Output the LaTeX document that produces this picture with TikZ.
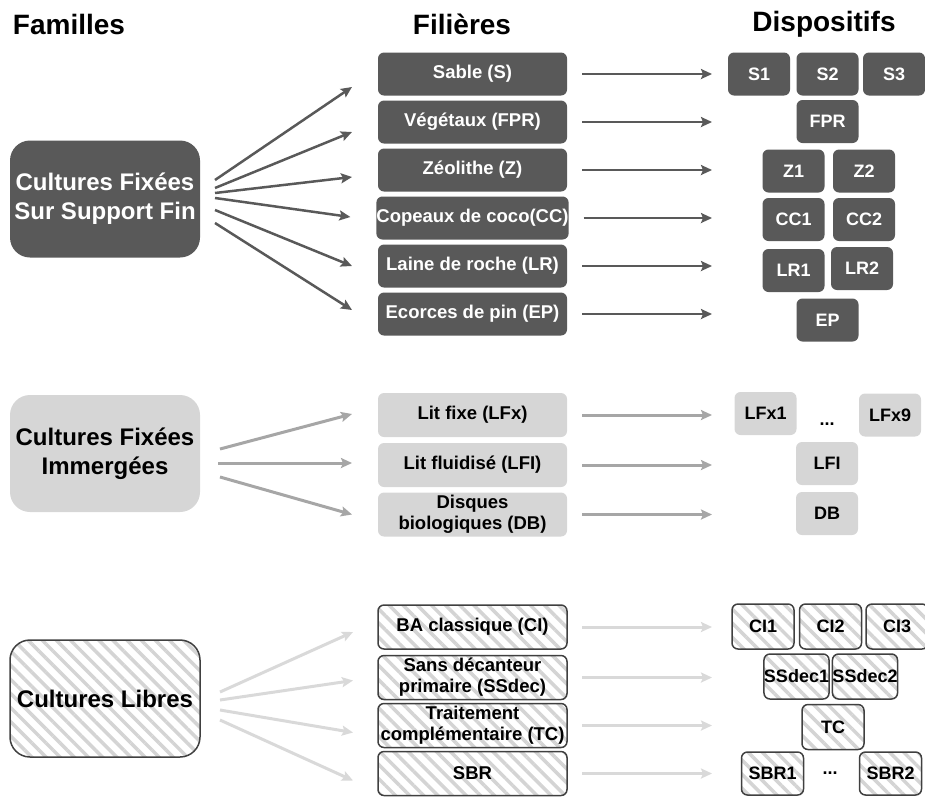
\documentclass[tikz,border=0pt]{standalone}
\usepackage{fontspec}
\setmainfont{Liberation Sans}
\usetikzlibrary{arrows.meta,patterns.meta}
\definecolor{dk}{HTML}{595959}
\definecolor{md}{HTML}{A6A6A6}
\definecolor{lt}{HTML}{D9D9D9}
\definecolor{dotgray}{HTML}{D6D6D6}
\begin{document}
\begin{tikzpicture}[x=1pt,y=-1pt,
 every node/.style={inner sep=0pt,outer sep=0pt,align=center},
 dkbox/.style={fill=dk,text=white,rounded corners=6pt},
 dtbox/.style={fill=dotgray,text=black,rounded corners=6pt},
 htbox/.style={draw=black!75,line width=1.5pt,pattern={Lines[angle=-45,distance=10pt,line width=3.5pt]},pattern color=black!17,rounded corners=6pt,text=black},
 fam/.style={minimum width=190pt,minimum height=117pt,rounded corners=20pt,font=\fontsize{24}{29}\selectfont\bfseries},
 fil/.style={minimum width=189pt,minimum height=43pt,font=\fontsize{18.5}{21}\selectfont\bfseries},
 dev/.style={minimum width=62pt,minimum height=43pt,font=\fontsize{18}{21}\selectfont\bfseries},
 head/.style={font=\fontsize{28}{30}\selectfont\bfseries},
 arrA/.style={draw=dk,line width=2.5pt,-{Stealth[length=11pt,width=10pt,inset=2pt]}},
 arrB/.style={draw=md,line width=3pt,-{Stealth[length=11pt,width=10pt,inset=2pt]}},
 arrC/.style={draw=lt,line width=3pt,-{Stealth[length=11pt,width=10pt,inset=2pt]}},
]
\useasboundingbox (0,0) rectangle (925,796);

% headings
\node[head] (h1) at (69,24) {Familles};
\node[head] (h2) at (462,24) {Filières};
\node[head] (h3) at (824,24) {Dispositifs};

% families
\node[fam,dkbox,rounded corners=20pt] (fam1) at (105,199) {Cultures Fixées\\Sur Support Fin};
\node[fam,dtbox,rounded corners=20pt] (fam2) at (105,453.5) {Cultures Fixées\\Immergées};
\node[fam,htbox,rounded corners=20pt] (fam3) at (105,698.5) {Cultures Libres};

% filieres group 1
\node[fil,dkbox] (fS) at (472.5,74) {Sable (S)};
\node[fil,dkbox] (fV) at (472.5,122) {Végétaux (FPR)};
\node[fil,dkbox] (fZ) at (472.5,170) {Zéolithe (Z)};
\node[fil,dkbox] (fC) at (472.5,218) {Copeaux de coco(CC)};
\node[fil,dkbox] (fL) at (472.5,266) {Laine de roche (LR)};
\node[fil,dkbox] (fE) at (472.5,314) {Ecorces de pin (EP)};
% filieres group 2
\node[fil,dtbox,minimum height=44pt] (fLF) at (472.5,415) {Lit fixe (LFx)};
\node[fil,dtbox,minimum height=44pt] (fLI) at (472.5,465) {Lit fluidisé (LFI)};
\node[fil,dtbox,minimum height=44pt] (fDB) at (472.5,514.5) {Disques\\biologiques (DB)};
% filieres group 3
\node[fil,htbox,minimum height=44pt] (fCI) at (472.5,627) {BA classique (CI)};
\node[fil,htbox,minimum height=44pt] (fSS) at (472.5,677.5) {Sans décanteur\\primaire (SSdec)};
\node[fil,htbox,minimum height=44pt] (fTC) at (472.5,725.5) {Traitement\\complémentaire (TC)};
\node[fil,htbox,minimum height=44pt] (fSB) at (472.5,773.5) {SBR};

% dispositifs group 1
\node[dev,dkbox] (S1) at (759,74) {S1};
\node[dev,dkbox] (S2) at (827.5,74) {S2};
\node[dev,dkbox] (S3) at (894,74) {S3};
\node[dev,dkbox] (FPR) at (827.5,121.5) {FPR};
\node[dev,dkbox] (Z1) at (793.5,171) {Z1};
\node[dev,dkbox] (Z2) at (864,171) {Z2};
\node[dev,dkbox] (CC1) at (793.5,219.5) {CC1};
\node[dev,dkbox] (CC2) at (864,219.5) {CC2};
\node[dev,dkbox] (LR1) at (793.5,270.5) {LR1};
\node[dev,dkbox] (LR2) at (862,268.5) {LR2};
\node[dev,dkbox] (EP) at (827.5,320) {EP};
% dispositifs group 2
\node[dev,dtbox] (LFx1) at (765.5,413.5) {LFx1};
\node[dev,dtbox] (LFx9) at (890,415) {LFx9};
\node[font=\fontsize{18}{21}\selectfont\bfseries] (d1) at (827,424) {...};
\node[dev,dtbox] (LFI) at (827,463.5) {LFI};
\node[dev,dtbox] (DB) at (827,513.5) {DB};
% dispositifs group 3
\node[dev,htbox,minimum height=45pt] (CI1) at (763,626.5) {CI1};
\node[dev,htbox,minimum height=45pt] (CI2) at (830.5,626.5) {CI2};
\node[dev,htbox,minimum height=45pt] (CI3) at (897,626.5) {CI3};
\node[dev,htbox,minimum height=45pt] (SS1) at (796.5,676.5) {SSdec1};
\node[dev,htbox,minimum height=45pt] (SS2) at (865,676.5) {SSdec2};
\node[dev,htbox,minimum height=45pt] (TC) at (833,727) {TC};
\node[dev,htbox,minimum height=43pt] (SB1) at (772.5,773.5) {SBR1};
\node[font=\fontsize{18}{21}\selectfont\bfseries] (d2) at (830,773) {...};
\node[dev,htbox,minimum height=43pt] (SB2) at (890.5,773.5) {SBR2};

% arrow end coordinates
\coordinate (eS) at (712,74);
\coordinate (eV) at (712,122);
\coordinate (eZ) at (712,170);
\coordinate (eC) at (712,218);
\coordinate (eL) at (712,266);
\coordinate (eE) at (712,314);
\coordinate (eLF) at (712,415);
\coordinate (eLI) at (712,465);
\coordinate (eDB) at (712,514.5);
\coordinate (eCI) at (712,627);
\coordinate (eSS) at (712,677.5);
\coordinate (eTC) at (712,725.5);
\coordinate (eSB) at (712,773.5);

% fan arrows group 1
\draw[arrA] ([xshift=15pt,yshift=19pt]fam1.east) -- ([xshift=-26pt,yshift=-13pt]fS.west);
\draw[arrA] ([xshift=15pt,yshift=11pt]fam1.east) -- ([xshift=-26pt,yshift=-10pt]fV.west);
\draw[arrA] ([xshift=15pt,yshift=6pt]fam1.east) -- ([xshift=-26pt,yshift=-7pt]fZ.west);
\draw[arrA] ([xshift=15pt,yshift=1pt]fam1.east) -- ([xshift=-26pt,yshift=1pt]fC.west);
\draw[arrA] ([xshift=15pt,yshift=-11pt]fam1.east) -- ([xshift=-26pt,yshift=0pt]fL.west);
\draw[arrA] ([xshift=15pt,yshift=-24pt]fam1.east) -- ([xshift=-26pt,yshift=4pt]fE.west);
% fan arrows group 2
\draw[arrB] ([xshift=20pt,yshift=4.5pt]fam2.east) -- ([xshift=-26pt,yshift=1pt]fLF.west);
\draw[arrB] ([xshift=18pt,yshift=-9.5pt]fam2.east) -- ([xshift=-26pt,yshift=2pt]fLI.west);
\draw[arrB] ([xshift=20pt,yshift=-23.5pt]fam2.east) -- ([xshift=-26pt,yshift=0pt]fDB.west);
% fan arrows group 3
\draw[arrC] ([xshift=20pt,yshift=6.5pt]fam3.east) -- ([xshift=-25pt,yshift=-5pt]fCI.west);
\draw[arrC] ([xshift=20pt,yshift=-1.5pt]fam3.east) -- ([xshift=-25pt,yshift=-3pt]fSS.west);
\draw[arrC] ([xshift=20pt,yshift=-11.5pt]fam3.east) -- ([xshift=-25pt,yshift=-7pt]fTC.west);
\draw[arrC] ([xshift=20pt,yshift=-21.5pt]fam3.east) -- ([xshift=-25pt,yshift=-7pt]fSB.west);

% horizontal arrows
\draw[arrA,shorten <=15pt] (fS.east) -- (eS);
\draw[arrA,shorten <=15pt] (fV.east) -- (eV);
\draw[arrA,shorten <=15pt] (fZ.east) -- (eZ);
\draw[arrA,shorten <=15pt] (fC.east) -- (eC);
\draw[arrA,shorten <=15pt] (fL.east) -- (eL);
\draw[arrA,shorten <=15pt] (fE.east) -- (eE);
\draw[arrB,shorten <=15pt] (fLF.east) -- (eLF);
\draw[arrB,shorten <=15pt] (fLI.east) -- (eLI);
\draw[arrB,shorten <=15pt] (fDB.east) -- (eDB);
\draw[arrC,shorten <=15pt] (fCI.east) -- (eCI);
\draw[arrC,shorten <=15pt] (fSS.east) -- (eSS);
\draw[arrC,shorten <=15pt] (fTC.east) -- (eTC);
\draw[arrC,shorten <=15pt] (fSB.east) -- (eSB);
\end{tikzpicture}
\end{document}
